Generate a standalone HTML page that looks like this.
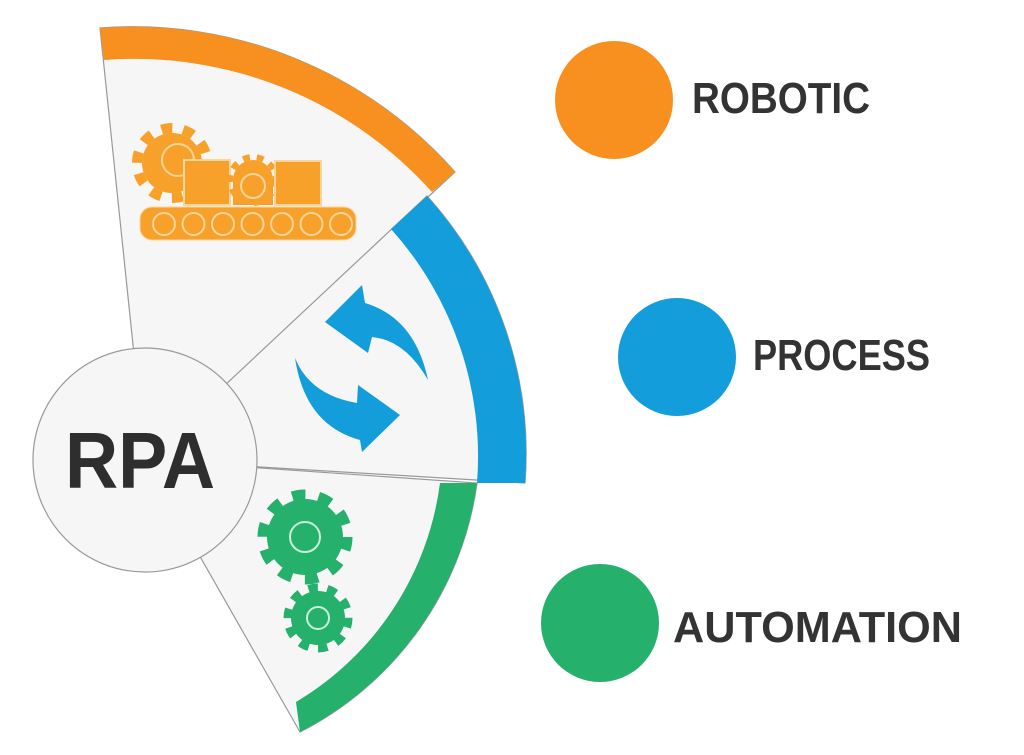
<!DOCTYPE html>
<html><head><meta charset="utf-8"><style>
html,body{margin:0;padding:0;background:#fff;}
svg{display:block;}
</style></head><body>
<svg width="1024" height="755" viewBox="0 0 1024 755" xmlns="http://www.w3.org/2000/svg">
<rect width="1024" height="755" fill="#fff"/>
<!-- wedges -->
<path d="M145,460 L100,28 A430,430 0 0 1 455,172 Z" fill="#f6f6f6" stroke="#999" stroke-width="1.2"/>
<path d="M145,460 L427,196 A385,385 0 0 1 525,483 Z" fill="#f6f6f6" stroke="#999" stroke-width="1.2"/>
<path d="M145,460 L477,483 A330,330 0 0 1 300,732 Z" fill="#f6f6f6" stroke="#999" stroke-width="1.2"/>
<!-- bands -->
<path d="M100,28 A430,430 0 0 1 455,172 L432,192 A400,400 0 0 0 104,60 Z" fill="#f7901e"/>
<path d="M427,196 A385,385 0 0 1 525,483 L477,483 A340,340 0 0 0 391,229 Z" fill="#139ddb"/>
<path d="M477,483 A330,330 0 0 1 300,732 L296,702 A300,300 0 0 0 440,483 Z" fill="#25b06c"/>
<!-- conveyor icon -->
<g fill="#f7a12a">
 <circle cx="172" cy="163" r="30"/>
 <circle cx="172" cy="163" r="35" fill="none" stroke="#f7a12a" stroke-width="10" stroke-dasharray="11 11"/>
 <circle cx="178" cy="160" r="16" fill="none" stroke="#fbd59a" stroke-width="2"/>
 <rect x="184" y="160" width="46" height="45" stroke="#fbd59a" stroke-width="2"/>
 <circle cx="253" cy="180" r="20"/>
 <circle cx="253" cy="180" r="23" fill="none" stroke="#f7a12a" stroke-width="6" stroke-dasharray="7 7"/>
 <rect x="233" y="178" width="40" height="27"/>
 <circle cx="253" cy="186" r="12" fill="none" stroke="#fbd59a" stroke-width="2"/>
 <rect x="275" y="161" width="46" height="44" stroke="#fbd59a" stroke-width="2"/>
 <rect x="140" y="207" width="216" height="33" rx="12" stroke="#fbd59a" stroke-width="1"/>
</g>
<g fill="none" stroke="#fbd59a" stroke-width="2">
 <circle cx="164" cy="224" r="11"/><circle cx="193.5" cy="224" r="11"/><circle cx="223" cy="224" r="11"/>
 <circle cx="252.5" cy="224" r="11"/><circle cx="282" cy="224" r="11"/><circle cx="311.5" cy="224" r="11"/><circle cx="341" cy="224" r="11"/>
</g>
<!-- blue arrows -->
<g fill="#139ddb">
 <path d="M325,322 L362,285 L365,303 Q415,318 428,380 Q405,340 372,337 L368,353 Z"/>
 <path d="M295,358 Q305,425 360,440 L362,452 L400,415 L358,385 L357,403 Q310,395 295,358 Z"/>
</g>
<!-- green gears -->
<g>
 <circle cx="305" cy="537" r="38" fill="#25b06c"/>
 <circle cx="305" cy="537" r="42" fill="none" stroke="#25b06c" stroke-width="11" stroke-dasharray="13.2 13.2"/>
 <circle cx="305" cy="537" r="15" fill="none" stroke="#c9f0da" stroke-width="2"/>
 <circle cx="318" cy="618" r="27" fill="#25b06c"/>
 <circle cx="318" cy="618" r="30" fill="none" stroke="#25b06c" stroke-width="9" stroke-dasharray="9.4 9.4"/>
 <circle cx="318" cy="618" r="11" fill="none" stroke="#c9f0da" stroke-width="2"/>
</g>
<!-- center circle -->
<circle cx="145" cy="460" r="112" fill="#f6f6f6" stroke="#999" stroke-width="1.2"/>
<text x="65" y="488" font-family="Liberation Sans, sans-serif" font-weight="bold" font-size="80" fill="#2e2e2e" textLength="150" lengthAdjust="spacingAndGlyphs">RPA</text>
<!-- right side -->
<circle cx="614" cy="100" r="59" fill="#f7901e"/>
<circle cx="677" cy="357" r="59" fill="#139ddb"/>
<circle cx="600" cy="623" r="59" fill="#25b06c"/>
<g font-family="Liberation Sans, sans-serif" font-weight="bold" font-size="44" fill="#333">
 <text x="692" y="113" textLength="178" lengthAdjust="spacingAndGlyphs">ROBOTIC</text>
 <text x="753" y="370" textLength="177" lengthAdjust="spacingAndGlyphs">PROCESS</text>
 <text x="673" y="642" textLength="289" lengthAdjust="spacingAndGlyphs">AUTOMATION</text>
</g>
</svg>
</body></html>
